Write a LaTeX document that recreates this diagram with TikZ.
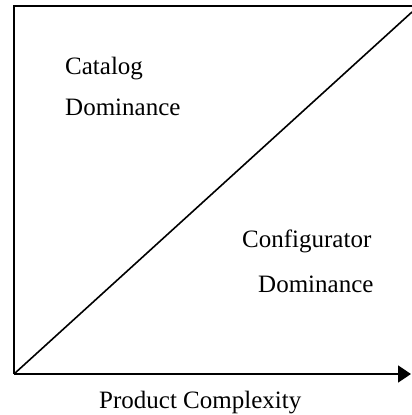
\documentclass[tikz,border=0pt]{standalone}
\usepackage{fontspec}
\setmainfont{Liberation Serif}
\usetikzlibrary{arrows.meta}
\begin{document}
\begin{tikzpicture}[x=1pt,y=1pt,yscale=-1,xscale=1]
\tikzset{label text/.style={anchor=base west,inner sep=0pt,font=\fontsize{25}{29}\selectfont}}
\useasboundingbox (0,0) rectangle (412,415);

%Corners of the frame
\coordinate (origin) at (14,374);
\coordinate (topleft) at (14,6);
\coordinate (topright) at (412,6);
\coordinate (diagend) at (412,12);
\coordinate (axisend) at (411,374);

%Shape: Frame
\draw [line width=1.9] (topright) -- (topleft) -- (origin) ;
%Shape: Axis
\draw [line width=1.6,-{Triangle[length=13,width=17]}] (origin) -- (axisend) ;
%Straight Lines
\draw [line width=1.6] (origin) -- (diagend) ;

% Text Node
\node (catalog) [label text] at (65,74) {Catalog};
% Text Node
\node (catdom) [label text] at (65,115) {Dominance};
% Text Node
\node (config) [label text] at (242,247) {Configurator};
% Text Node
\node (configdom) [label text] at (258,292) {Dominance};
% Text Node
\node (complexity) [label text] at (99,408) {Product Complexity};

\end{tikzpicture}
\end{document}
